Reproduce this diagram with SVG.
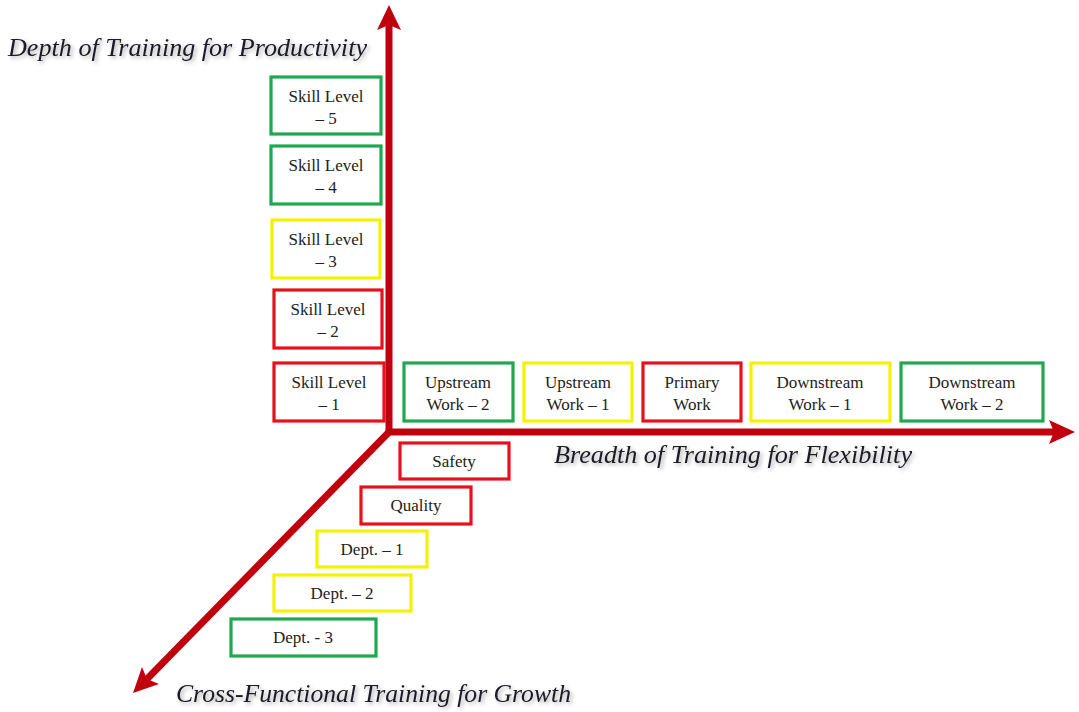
<svg xmlns="http://www.w3.org/2000/svg" width="1079" height="712" viewBox="0 0 1079 712">
  <defs>
    <filter id="soft" x="-5%" y="-30%" width="110%" height="160%">
      <feGaussianBlur in="SourceAlpha" stdDeviation="2"/>
      <feOffset dx="2" dy="2" result="b"/>
      <feComponentTransfer><feFuncA type="linear" slope="0.35"/></feComponentTransfer>
      <feMerge><feMergeNode/><feMergeNode in="SourceGraphic"/></feMerge>
    </filter>
  </defs>
  <style>
    .box { fill: #ffffff; stroke-width: 3.2; }
    .red { stroke: #e8101a; }
    .green { stroke: #1fa84f; }
    .yellow { stroke: #f4f200; }
    .t { font-family: "Liberation Serif", "DejaVu Serif", serif; font-size: 17px; fill: #222222; text-anchor: middle; }
    .axis { stroke: #c0000c; stroke-width: 7; fill: none; }
    .head { fill: #c0000c; }
    .lbl { font-family: "Liberation Serif", "DejaVu Serif", serif; font-style: italic; font-size: 25.5px; fill: #1a1a26; }
  </style>
  <rect width="1079" height="712" fill="#ffffff"/>

  <!-- axes -->
  <g id="connectors">
    <line class="axis" x1="389" y1="435" x2="389" y2="24"/>
    <polygon class="head" points="389,5 401,30 389,25 377,30"/>
    <line class="axis" x1="386" y1="432" x2="1054" y2="432"/>
    <polygon class="head" points="1075,432 1049,444 1054,432 1049,420"/>
    <line class="axis" x1="391" y1="430" x2="147" y2="679"/>
    <polygon class="head" points="133,693 142,667 147,679 159,684"/>
  </g>

  <!-- axis titles -->
  <g id="label-depth"><text class="lbl" x="8" y="56" textLength="359" lengthAdjust="spacingAndGlyphs" filter="url(#soft)">Depth of Training for Productivity</text></g>
  <g id="label-breadth"><text class="lbl" x="554" y="463" textLength="358" lengthAdjust="spacingAndGlyphs" filter="url(#soft)">Breadth of Training for Flexibility</text></g>
  <g id="label-cross"><text class="lbl" x="176" y="702" textLength="395" lengthAdjust="spacingAndGlyphs" filter="url(#soft)">Cross-Functional Training for Growth</text></g>

  <!-- depth: skill levels -->
  <g id="skill-5"><rect class="box green" x="271" y="77" width="110" height="57"/><text class="t" x="326" y="102">Skill Level</text><text class="t" x="326" y="124">– 5</text></g>
  <g id="skill-4"><rect class="box green" x="271" y="146" width="110" height="58"/><text class="t" x="326" y="171">Skill Level</text><text class="t" x="326" y="193">– 4</text></g>
  <g id="skill-3"><rect class="box yellow" x="272" y="220" width="108" height="58"/><text class="t" x="326" y="245">Skill Level</text><text class="t" x="326" y="267">– 3</text></g>
  <g id="skill-2"><rect class="box red" x="274" y="290" width="108" height="58"/><text class="t" x="328" y="315">Skill Level</text><text class="t" x="328" y="337">– 2</text></g>
  <g id="skill-1"><rect class="box red" x="274" y="363" width="110" height="58"/><text class="t" x="329" y="388">Skill Level</text><text class="t" x="329" y="410">– 1</text></g>

  <!-- breadth: work areas -->
  <g id="upstream-2"><rect class="box green" x="404" y="363" width="109" height="58"/><text class="t" x="458" y="388">Upstream</text><text class="t" x="458" y="410">Work – 2</text></g>
  <g id="upstream-1"><rect class="box yellow" x="524" y="363" width="108" height="58"/><text class="t" x="578" y="388">Upstream</text><text class="t" x="578" y="410">Work – 1</text></g>
  <g id="primary"><rect class="box red" x="643" y="363" width="98" height="58"/><text class="t" x="692" y="388">Primary</text><text class="t" x="692" y="410">Work</text></g>
  <g id="downstream-1"><rect class="box yellow" x="751" y="363" width="139" height="58"/><text class="t" x="820" y="388">Downstream</text><text class="t" x="820" y="410">Work – 1</text></g>
  <g id="downstream-2"><rect class="box green" x="901" y="363" width="142" height="58"/><text class="t" x="972" y="388">Downstream</text><text class="t" x="972" y="410">Work – 2</text></g>

  <!-- cross-functional: departments -->
  <g id="safety"><rect class="box red" x="400" y="443" width="109" height="36"/><text class="t" x="454" y="467">Safety</text></g>
  <g id="quality"><rect class="box red" x="361" y="487" width="110" height="37"/><text class="t" x="416" y="511">Quality</text></g>
  <g id="dept-1"><rect class="box yellow" x="317" y="531" width="110" height="36"/><text class="t" x="372" y="555">Dept. – 1</text></g>
  <g id="dept-2"><rect class="box yellow" x="274" y="575" width="137" height="36"/><text class="t" x="342" y="599">Dept. – 2</text></g>
  <g id="dept-3"><rect class="box green" x="231" y="619" width="145" height="37"/><text class="t" x="303" y="643">Dept. - 3</text></g>
</svg>
